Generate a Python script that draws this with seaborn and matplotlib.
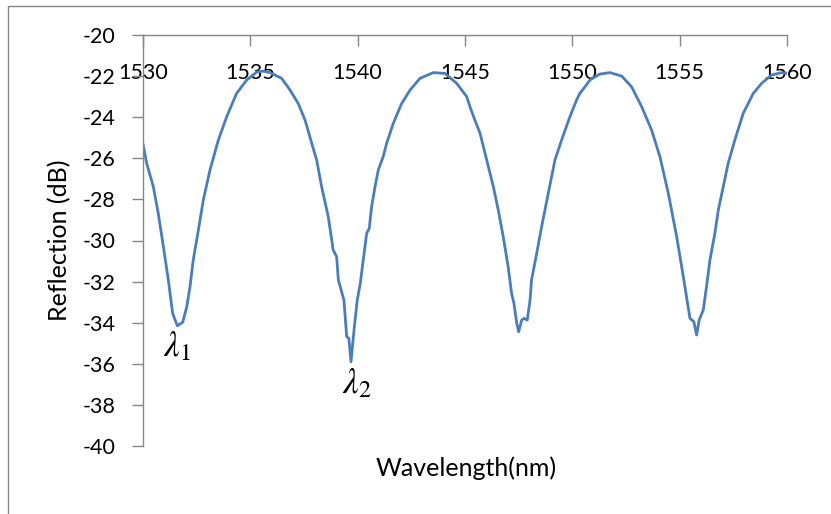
import matplotlib
matplotlib.use("Agg")
import matplotlib.pyplot as plt
from matplotlib.patches import Rectangle
import seaborn as sns
import pandas as pd

wavelength = [
    1530.00, 1530.17, 1530.48, 1530.71, 1530.95, 1531.18, 1531.38, 1531.60, 1531.85, 1532.04,
    1532.19, 1532.34, 1532.58, 1532.81, 1533.12, 1533.51, 1533.90, 1534.36, 1534.83, 1535.22,
    1535.30, 1535.60, 1535.92, 1536.46, 1536.85, 1537.23, 1537.55, 1537.86, 1538.09, 1538.32,
    1538.63, 1538.86, 1539.02, 1539.10, 1539.36, 1539.49, 1539.59, 1539.69, 1539.83, 1539.98,
    1540.12, 1540.26, 1540.42, 1540.54, 1540.65, 1540.81, 1540.96, 1541.19, 1541.35, 1541.66,
    1542.05, 1542.44, 1542.90, 1543.52, 1544.07, 1544.61, 1545.08, 1545.23, 1545.46, 1545.70,
    1546.01, 1546.32, 1546.55, 1546.78, 1547.01, 1547.17, 1547.28, 1547.41, 1547.50, 1547.64,
    1547.75, 1547.90, 1548.03, 1548.10, 1548.34, 1548.57, 1548.88, 1549.19, 1549.50, 1549.89,
    1550.20, 1550.35, 1550.59, 1550.82, 1551.28, 1551.75, 1552.30, 1552.76, 1553.23, 1553.69,
    1554.08, 1554.47, 1554.86, 1555.17, 1555.48, 1555.66, 1555.79, 1555.91, 1556.10, 1556.25,
    1556.41, 1556.64, 1556.80, 1557.03, 1557.26, 1557.57, 1557.96, 1558.43, 1558.82, 1559.28,
    1559.75, 1560.00,
]
reflection = [
    -25.30, -26.24, -27.38, -28.68, -30.30, -31.92, -33.54, -34.15, -33.98, -33.22,
    -32.25, -30.95, -29.49, -28.03, -26.57, -25.11, -23.97, -22.84, -22.19, -21.87,
    -21.80, -21.76, -21.83, -22.11, -22.68, -23.33, -24.14, -25.27, -26.08, -27.38,
    -28.84, -30.46, -30.79, -31.92, -32.90, -34.68, -34.76, -35.90, -34.36, -32.90,
    -32.10, -30.95, -29.65, -29.41, -28.35, -27.38, -26.57, -25.92, -25.27, -24.30,
    -23.33, -22.68, -22.11, -21.83, -21.87, -22.35, -23.00, -23.49, -24.14, -24.78,
    -26.08, -27.38, -28.52, -29.81, -31.27, -32.57, -33.06, -34.03, -34.44, -33.87,
    -33.79, -33.87, -32.90, -31.92, -30.62, -29.33, -27.70, -26.08, -25.11, -23.97,
    -23.16, -22.84, -22.52, -22.19, -21.90, -21.83, -22.00, -22.52, -23.49, -24.62,
    -25.92, -27.70, -29.81, -31.76, -33.79, -33.95, -34.60, -33.87, -33.38, -32.25,
    -30.95, -29.65, -28.52, -27.38, -26.24, -25.11, -23.81, -22.84, -22.35, -21.95,
    -21.83, -21.86,
]
x_ticks = [1530, 1535, 1540, 1545, 1550, 1555, 1560]
y_ticks = [-40, -38, -36, -34, -32, -30, -28, -26, -24, -22, -20]
annot_labels = [r"$\lambda_1$", r"$\lambda_2$"]
annot_x = [1531.60, 1539.97]
annot_y = [-35.15, -36.95]

sns.set_style("white")
plt.rcParams["font.family"] = ["Lato", "DejaVu Sans"]
plt.rcParams["mathtext.fontset"] = "stix"

W, H = 831, 514
fig = plt.figure(figsize=(W / 100, H / 100), dpi=100)
ax = fig.add_axes([143 / W, (H - 446) / H, (787 - 143) / W, (446 - 35) / H])

df = pd.DataFrame({"Wavelength": wavelength, "Reflection": reflection})
sns.lineplot(data=df, x="Wavelength", y="Reflection", ax=ax, color="#4A7EBB",
             linewidth=2.0, sort=False, estimator=None)

ax.set_xlim(1530, 1560)
ax.set_ylim(-40, -20)
ax.set_xticks(x_ticks)
ax.set_yticks(y_ticks)
ax.set_xticklabels([str(v) for v in x_ticks])
ax.set_yticklabels([str(v) for v in y_ticks])

gray = "#868686"
ax.spines["top"].set_visible(False)
ax.spines["right"].set_visible(False)
ax.spines["bottom"].set_position(("data", -20))
for s in ("bottom", "left"):
    ax.spines[s].set_color(gray)
    ax.spines[s].set_linewidth(1.0)

ax.tick_params(axis="x", direction="out", length=8, width=1.0, color=gray,
               labelsize=15.5, pad=12, labelcolor="black", bottom=True)
ax.tick_params(axis="y", direction="out", length=8, width=1.0, color=gray,
               labelsize=15.5, pad=12, labelcolor="black", left=True)

ax.set_xlabel("Wavelength(nm)", fontsize=18, color="black")
ax.set_ylabel("Reflection (dB)", fontsize=18, color="black")
ax.xaxis.set_label_coords(0.502, -0.053)
ax.xaxis.label.set_va("center")
ax.yaxis.set_label_coords((60 - 143) / (787 - 143), 0.5)
ax.yaxis.label.set_va("center")

for lab, xv, yv in zip(annot_labels, annot_x, annot_y):
    ax.text(xv, yv, lab, fontsize=25, ha="center", va="center", color="black")

fig.patches.append(Rectangle((8 / W, -0.1), 2, 1 - 6 / H + 0.1, transform=fig.transFigure,
                             fill=False, edgecolor=gray, linewidth=1.0))

fig.savefig("out.png", dpi=100)
